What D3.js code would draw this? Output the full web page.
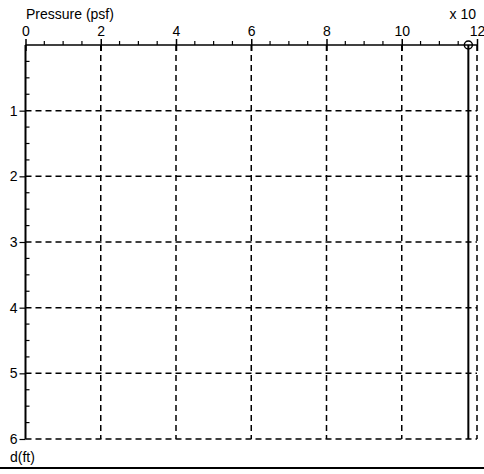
<!DOCTYPE html>
<html><head><meta charset="utf-8">
<script src="https://cdn.jsdelivr.net/npm/d3@7"></script>
<style>body{margin:0;background:#fff}svg{display:block}text{font-family:"Liberation Sans",Arial,sans-serif;fill:#000}</style>
</head><body><div id="chart"></div>
<script>
// Pressure profile data (pressure in units of 10 psf, depth in ft)
const pressureTicks = [0, 2, 4, 6, 8, 10, 12];
const depthTicks = [1, 2, 3, 4, 5, 6];
const depth = [0, 6];
const pressure = [11.77, 11.77];

const W = 484, H = 474;
const FONT = "Liberation Sans, Arial, sans-serif";
const svg = d3.select("#chart").append("svg").attr("width", W).attr("height", H);

const x = d3.scaleLinear().domain([0, 12]).range([25.5, 477]);
const y = d3.scaleLinear().domain([0, 6]).range([45, 439]);

// dashed grid
const grid = svg.append("g").attr("stroke", "#000").attr("stroke-width", 1.5).attr("stroke-dasharray", "6,4");
grid.selectAll("line.v").data(pressureTicks.slice(1)).join("line")
  .attr("x1", d => x(d)).attr("x2", d => x(d)).attr("y1", y(0)).attr("y2", y(6));
grid.selectAll("line.h").data(depthTicks).join("line")
  .attr("x1", x(0)).attr("x2", x(12)).attr("y1", d => y(d)).attr("y2", d => y(d));

// top axis
const topAxis = svg.append("g").attr("transform", `translate(0,${y(0)})`)
  .call(d3.axisTop(x).tickValues(pressureTicks).tickFormat(d3.format("d")).tickSize(6).tickSizeOuter(0).tickPadding(3));
topAxis.selectAll(".tick line").attr("y2", -6).attr("y1", 6).attr("stroke-width", 1.5);
topAxis.select(".domain").attr("stroke-width", 1.5).attr("d", `M${x(0)},0H${x(12)}`);
topAxis.selectAll("text").attr("font-size", 14).attr("font-family", FONT).attr("fill", "#000");
topAxis.append("g").selectAll("line").data(d3.range(0.5, 12, 0.5).filter(v => v % 2 !== 0)).join("line")
  .attr("x1", d => x(d)).attr("x2", d => x(d)).attr("y1", 0).attr("y2", -4).attr("stroke", "#000").attr("stroke-width", 1.2);

// left axis
const leftAxis = svg.append("g").attr("transform", `translate(${x(0)},0)`)
  .call(d3.axisLeft(y).tickValues(depthTicks).tickFormat(d3.format("d")).tickSize(6).tickSizeOuter(0).tickPadding(2));
leftAxis.selectAll(".tick line").attr("stroke-width", 1.2);
leftAxis.select(".domain").attr("stroke-width", 2).attr("d", `M0,${y(0)}V${y(6)}`);
leftAxis.selectAll("text").attr("font-size", 14).attr("font-family", FONT).attr("fill", "#000");
leftAxis.append("g").selectAll("line").data(d3.range(0.25, 6, 0.25).filter(v => v % 1 !== 0)).join("line")
  .attr("x1", 0).attr("x2", 4).attr("y1", d => y(d)).attr("y2", d => y(d)).attr("stroke", "#000").attr("stroke-width", 1.2);

// pressure profile line
svg.append("path")
  .attr("d", d3.line().x((d, i) => x(pressure[i])).y(d => y(d))(depth))
  .attr("stroke", "#000").attr("stroke-width", 2).attr("fill", "none");
svg.append("circle").attr("cx", x(pressure[0])).attr("cy", y(depth[0])).attr("r", 4)
  .attr("fill", "none").attr("stroke", "#000").attr("stroke-width", 1.5);

// titles
svg.append("text").attr("x", 26).attr("y", 19).attr("font-size", 14).text("Pressure (psf)");
svg.append("text").attr("x", 476).attr("y", 19).attr("font-size", 14).attr("text-anchor", "end").text("x 10");
svg.append("text").attr("x", 10).attr("y", 462).attr("font-size", 14).text("d(ft)");

// bottom rule
svg.append("line").attr("x1", 0).attr("x2", W).attr("y1", 468).attr("y2", 468).attr("stroke", "#000").attr("stroke-width", 2);
</script></body></html>
